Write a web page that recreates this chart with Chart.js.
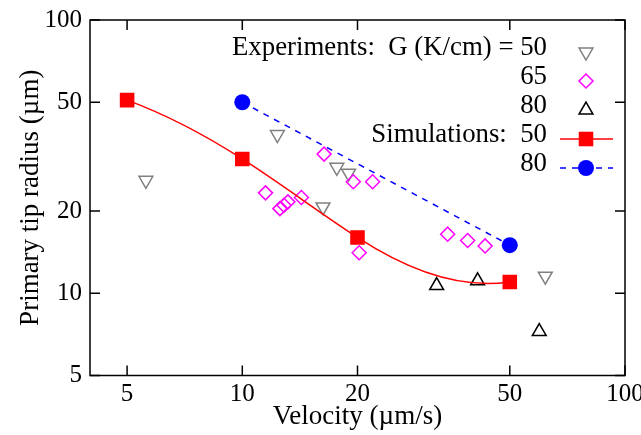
<!DOCTYPE html>
<html>
<head>
<meta charset="utf-8">
<script src="https://cdn.jsdelivr.net/npm/chart.js@4.4.1/dist/chart.umd.min.js"></script>
<style>
  html, body { margin: 0; padding: 0; background: #fff; }
</style>
</head>
<body>
<canvas id="tipChart" width="641" height="435"></canvas>
<script>
// axis ticks
const xTicks = [5, 10, 20, 50, 100];
const yTicks = [5, 10, 20, 50, 100];

// experiments (velocity in um/s, tip radius in um)
const exp50V = [5.6, 12.35, 16.25, 17.66, 18.95, 61.9];
const exp50R = [25.9, 38.1, 20.7, 28.9, 27.5, 11.55];
const exp65V = [11.5, 12.54, 12.85, 13.16, 14.27, 16.36, 19.5, 21.9, 20.2, 34.4, 38.8, 43.1];
const exp65R = [23.3, 20.4, 21.0, 21.6, 22.4, 32.3, 25.6, 25.6, 14.07, 16.45, 15.6, 14.9];
const exp80V = [32.2, 41.2, 59.7];
const exp80R = [10.67, 11.1, 7.24];

// simulations
const sim50V = [5, 10, 20, 50];
const sim50R = [50.9, 31, 16, 11];
const sim80V = [10, 50];
const sim80R = [50, 15];

// legend rows, in the same order as the legend in the figure
const legendText = ['Experiments:  G (K/cm) = 50', '65', '80', 'Simulations:  50', '80'];

const FONT = 'Liberation Serif';

function toPoints(xs, ys) {
    return xs.map((x, i) => ({ x: x, y: ys[i] }));
}

const sim50 = {
    label: 'Simulations 50', data: toPoints(sim50V, sim50R),
    showLine: true, tension: 0.4, naturalSpline: true,
    borderColor: '#ff0000', backgroundColor: '#ff0000', borderWidth: 1.5,
    pointStyle: 'rect', pointRadius: 10.3, pointHoverRadius: 10.3, pointBorderWidth: 0
};
const sim80 = {
    label: 'Simulations 80', data: toPoints(sim80V, sim80R),
    showLine: true, borderDash: [6, 6],
    borderColor: '#0000ff', backgroundColor: '#0000ff', borderWidth: 1.5,
    pointStyle: 'circle', pointRadius: 8, pointHoverRadius: 8, pointBorderWidth: 0
};
const exp50 = {
    label: 'Experiments 50', data: toPoints(exp50V, exp50R),
    borderColor: '#808080', backgroundColor: 'rgba(0,0,0,0)', pointBorderWidth: 1.5,
    pointStyle: 'triangle', pointRotation: 180, pointRadius: 8, pointHoverRadius: 8
};
const exp65 = {
    label: 'Experiments 65', data: toPoints(exp65V, exp65R),
    borderColor: '#ff00ff', backgroundColor: 'rgba(0,0,0,0)', pointBorderWidth: 1.5,
    pointStyle: 'rectRot', pointRadius: 7, pointHoverRadius: 7
};
const exp80 = {
    label: 'Experiments 80', data: toPoints(exp80V, exp80R),
    borderColor: '#000000', backgroundColor: 'rgba(0,0,0,0)', pointBorderWidth: 1.5,
    pointStyle: 'triangle', pointRotation: 0, pointRadius: 8, pointHoverRadius: 8
};

// slopes dw/du at the knots of a natural cubic spline w(u)
function naturalSlopes(u, w) {
    const n = u.length - 1;
    const h = [], s = [];
    for (let i = 0; i < n; i++) {
        h[i] = u[i + 1] - u[i];
        s[i] = (w[i + 1] - w[i]) / h[i];
    }
    const M = new Array(n + 1).fill(0);
    const b = [], c = [], d = [];
    for (let i = 1; i < n; i++) {
        b[i] = 2 * (h[i - 1] + h[i]);
        c[i] = h[i];
        d[i] = 6 * (s[i] - s[i - 1]);
    }
    for (let i = 2; i < n; i++) {
        const f = h[i - 1] / b[i - 1];
        b[i] -= f * c[i - 1];
        d[i] -= f * d[i - 1];
    }
    for (let i = n - 1; i >= 1; i--) M[i] = (d[i] - c[i] * M[i + 1]) / b[i];
    const m = [];
    for (let i = 0; i < n; i++) m[i] = s[i] - h[i] * (2 * M[i] + M[i + 1]) / 6;
    m[n] = s[n - 1] + h[n - 1] * (M[n - 1] + 2 * M[n]) / 6;
    return m;
}

// the simulation curve in the figure is a natural spline in velocity,
// so swap Chart.js's bezier handles for the handles of that spline
const splinePlugin = {
    id: 'spline',
    beforeDatasetDraw(chart, args) {
        const ds = chart.data.datasets[args.index];
        if (!ds.naturalSpline) return;
        const meta = args.meta;
        const xs = chart.scales.x;
        meta.dataset.updateControlPoints(chart.chartArea);
        const pts = meta.data;
        const u = ds.data.map(p => p.x);
        const m = naturalSlopes(u, pts.map(p => p.y));
        // pixel slope = (dw/du) / (dx/du)
        const g = u.map((v, i) => {
            const dxdu = (xs.getPixelForValue(v * 10) - xs.getPixelForValue(v)) / (v * Math.LN10);
            return m[i] / dxdu;
        });
        for (let i = 0; i < pts.length - 1; i++) {
            const a = pts[i], b = pts[i + 1];
            const hx = (b.x - a.x) / 3;
            a.cp2x = a.x + hx; a.cp2y = a.y + g[i] * hx;
            b.cp1x = b.x - hx; b.cp1y = b.y - g[i + 1] * hx;
        }
    }
};

// draw a marker the same way the dataset points are drawn
function marker(ctx, ds, x, y) {
    ctx.save();
    ctx.strokeStyle = ds.borderColor;
    ctx.fillStyle = ds.pointBorderWidth ? 'rgba(0,0,0,0)' : ds.backgroundColor;
    ctx.lineWidth = ds.pointBorderWidth || 0;
    Chart.helpers.drawPoint(ctx, {
        pointStyle: ds.pointStyle,
        rotation: ds.pointRotation || 0,
        radius: ds.pointRadius,
        borderWidth: ds.pointBorderWidth || 0
    }, x, y);
    ctx.restore();
}

// gnuplot style frame: box round the plot with ticks pointing inwards
const framePlugin = {
    id: 'frame',
    afterDraw(chart) {
        const ctx = chart.ctx;
        const a = chart.chartArea;
        const xs = chart.scales.x, ys = chart.scales.y;
        ctx.save();
        ctx.strokeStyle = '#000';
        ctx.lineWidth = 1.5;
        ctx.strokeRect(a.left, a.top, a.right - a.left, a.bottom - a.top);
        ctx.beginPath();
        xTicks.forEach(v => {
            const px = xs.getPixelForValue(v);
            ctx.moveTo(px, a.bottom); ctx.lineTo(px, a.bottom - 10);
            ctx.moveTo(px, a.top); ctx.lineTo(px, a.top + 10);
        });
        yTicks.forEach(v => {
            const py = ys.getPixelForValue(v);
            ctx.moveTo(a.left, py); ctx.lineTo(a.left + 10, py);
            ctx.moveTo(a.right, py); ctx.lineTo(a.right - 10, py);
        });
        ctx.stroke();

        // legend
        const rows = [exp50, exp65, exp80, sim50, sim80];
        ctx.font = '26.8px "' + FONT + '"';
        ctx.fillStyle = '#000';
        ctx.textAlign = 'right';
        ctx.textBaseline = 'middle';
        rows.forEach((ds, i) => {
            const y = 48 + i * 29;
            ctx.fillText(legendText[i], 547, y);
            const sy = y + 4;
            if (ds.showLine) {
                ctx.save();
                ctx.strokeStyle = ds.borderColor;
                ctx.lineWidth = ds.borderWidth;
                ctx.setLineDash(ds.borderDash || []);
                ctx.beginPath();
                ctx.moveTo(560, sy); ctx.lineTo(613, sy);
                ctx.stroke();
                ctx.restore();
            }
            marker(ctx, ds, 586, sy);
        });
        ctx.restore();
    }
};

new Chart(document.getElementById('tipChart'), {
    type: 'scatter',
    data: { datasets: [sim50, sim80, exp65, exp50, exp80] },
    options: {
        responsive: false,
        animation: false,
        layout: { padding: { top: 20, right: 16, left: 0, bottom: 0 } },
        plugins: { legend: { display: false }, tooltip: { enabled: false } },
        scales: {
            x: {
                type: 'logarithmic', min: 4, max: 100,
                grid: { display: false, drawTicks: false },
                border: { display: false },
                afterBuildTicks: s => { s.ticks = xTicks.map(v => ({ value: v })); },
                afterFit: s => { s.height = 59.5; s.paddingLeft = 0; s.paddingRight = 0; },
                ticks: {
                    autoSkip: false, maxRotation: 0, padding: 4, color: '#000',
                    font: { family: FONT, size: 25 },
                    callback: v => String(v)
                },
                title: {
                    display: true, text: 'Velocity (µm/s)', color: '#000',
                    font: { family: FONT, size: 27 }, padding: { top: 0, bottom: 2 }
                }
            },
            y: {
                type: 'logarithmic', min: 5, max: 100,
                grid: { display: false, drawTicks: false },
                border: { display: false },
                afterBuildTicks: s => { s.ticks = yTicks.map(v => ({ value: v })); },
                afterFit: s => { s.width = 90; s.paddingTop = 0; s.paddingBottom = 0; },
                ticks: {
                    autoSkip: false, padding: 8, color: '#000',
                    font: { family: FONT, size: 25 },
                    callback: v => String(v)
                },
                title: {
                    display: true, text: 'Primary tip radius (µm)', color: '#000',
                    font: { family: FONT, size: 27 }, padding: { top: 15, bottom: 0 }
                }
            }
        }
    },
    plugins: [splinePlugin, framePlugin]
});
</script>
</body>
</html>
